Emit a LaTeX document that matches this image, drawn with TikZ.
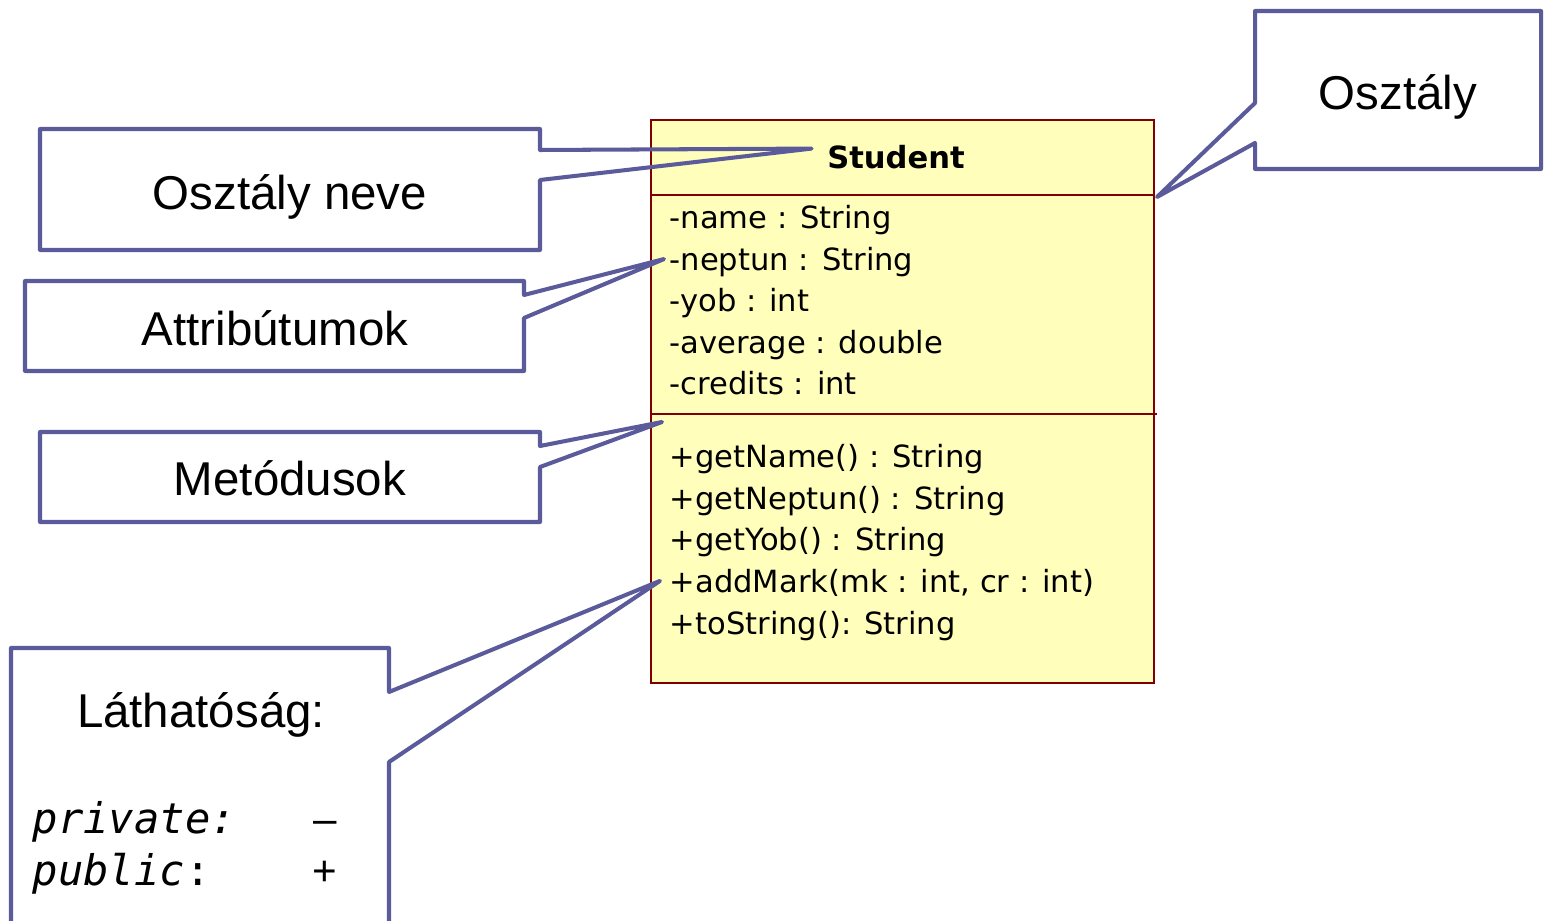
\documentclass[tikz,border=0pt]{standalone}
\usepackage{fontspec}
\setmainfont{Liberation Sans}
\newfontfamily\umlfont{DejaVu Sans}
\newfontfamily\codefont{DejaVu Sans Mono}
\usetikzlibrary{calc}
\definecolor{bubbleblue}{RGB}{91,91,155}
\definecolor{classred}{RGB}{128,0,0}
\definecolor{classfill}{RGB}{255,255,187}
\tikzset{
  bubble/.style={draw=bubbleblue, line width=1.15pt, line join=round},
  classbox/.style={draw=classred, line width=0.8pt},
  bubbletext/.style={font=\fontsize{13.5}{16}\selectfont, inner sep=0, anchor=base},
  member/.style={font=\umlfont\fontsize{8.7}{10}\selectfont, inner sep=0, anchor=base west},
  codetext/.style={font=\codefont\itshape\fontsize{12}{14}\selectfont, inner sep=0, anchor=base west}
}

\begin{document}
\begin{tikzpicture}[x=0.1mm,y=-0.1mm]
        \useasboundingbox (0,0) rectangle (1544,921);
        \newcommand{\lh}{41.5}
        \filldraw[classbox, fill=classfill] (651,120) rectangle (1154,683); %class
        \draw[classbox] (651,195) -- (1154,195); %header
        \draw[classbox] (651,414) -- (1157,414); %attributes
        \coordinate (hdr) at (1157,197);
        \coordinate (sep) at (662,422);

        \node[member, font=\umlfont\bfseries\fontsize{8.7}{10}\selectfont, anchor=base] (student) at (896,169) {Student};

        \node[member] (name)    at (669,229)        {-name : String};
        \node[member] (neptun)  at (669,229+\lh)    {-neptun : String};
        \node[member] (yob)     at (669,229+2*\lh)  {-yob : int};
        \node[member] (average) at (669,229+3*\lh)  {-average : double};
        \node[member] (credits) at (669,229+4*\lh)  {-credits : int};

        \node[member] (getname)   at (669,468)        {+getName() : String};
        \node[member] (getneptun) at (669,468+\lh)    {+getNeptun() : String};
        \node[member] (getyob)    at (669,468+2*\lh)  {+getYob() : String};
        \node[member] (addmark)   at (669,468+3*\lh)  {+addMark(mk : int, cr : int)};
        \node[member] (tostring)  at (669,468+4*\lh)  {+toString(): String};

        \draw[bubble] (40,129) -- (540,129) -- (540,150) -- ($(student.west)+(-15,-9)$) -- (540,180) -- (540,250) -- (40,250) -- cycle; %class name
        \draw[bubble] (25,281) -- (524,281) -- (524,295) -- ($(neptun.west)+(-5,-3)$) -- (524,318) -- (524,371) -- (25,371) -- cycle; %attributes
        \draw[bubble] (40,432) -- (540,432) -- (540,446) -- (sep) -- (540,467) -- (540,522) -- (40,522) -- cycle; %methods
        \draw[bubble] (389,950) -- (389,762) -- ($(addmark.west)+(-9,-2)$) -- (389,692) -- (389,648) -- (11,648) -- (11,950); %visibility
        \draw[bubble] (1255,11) -- (1541,11) -- (1541,169) -- (1255,169) -- (1255,143) -- (hdr) -- (1255,103) -- cycle; %class

        \node[bubbletext] (lname)  at (290,210)  {Osztály neve};
        \node[bubbletext] (lattr)  at (275,346)  {Attribútumok};
        \node[bubbletext] (lmeth)  at (290,496)  {Metódusok};
        \node[bubbletext] (lclass) at (1398,110) {Osztály};
        \node[bubbletext] (lvis)   at (201,727)  {Láthatóság:};

        \node[codetext] (priv) at (32,833) {private:};
        \node[codetext] (pub)  at (32,885) {public\upshape:};
        \node[bubbletext, font=\fontsize{12}{14}\selectfont] (privsign) at (325,833) {–};
        \node[bubbletext, font=\fontsize{12}{14}\selectfont] (pubsign)  at (325,885) {+};
    \end{tikzpicture}
\end{document}
